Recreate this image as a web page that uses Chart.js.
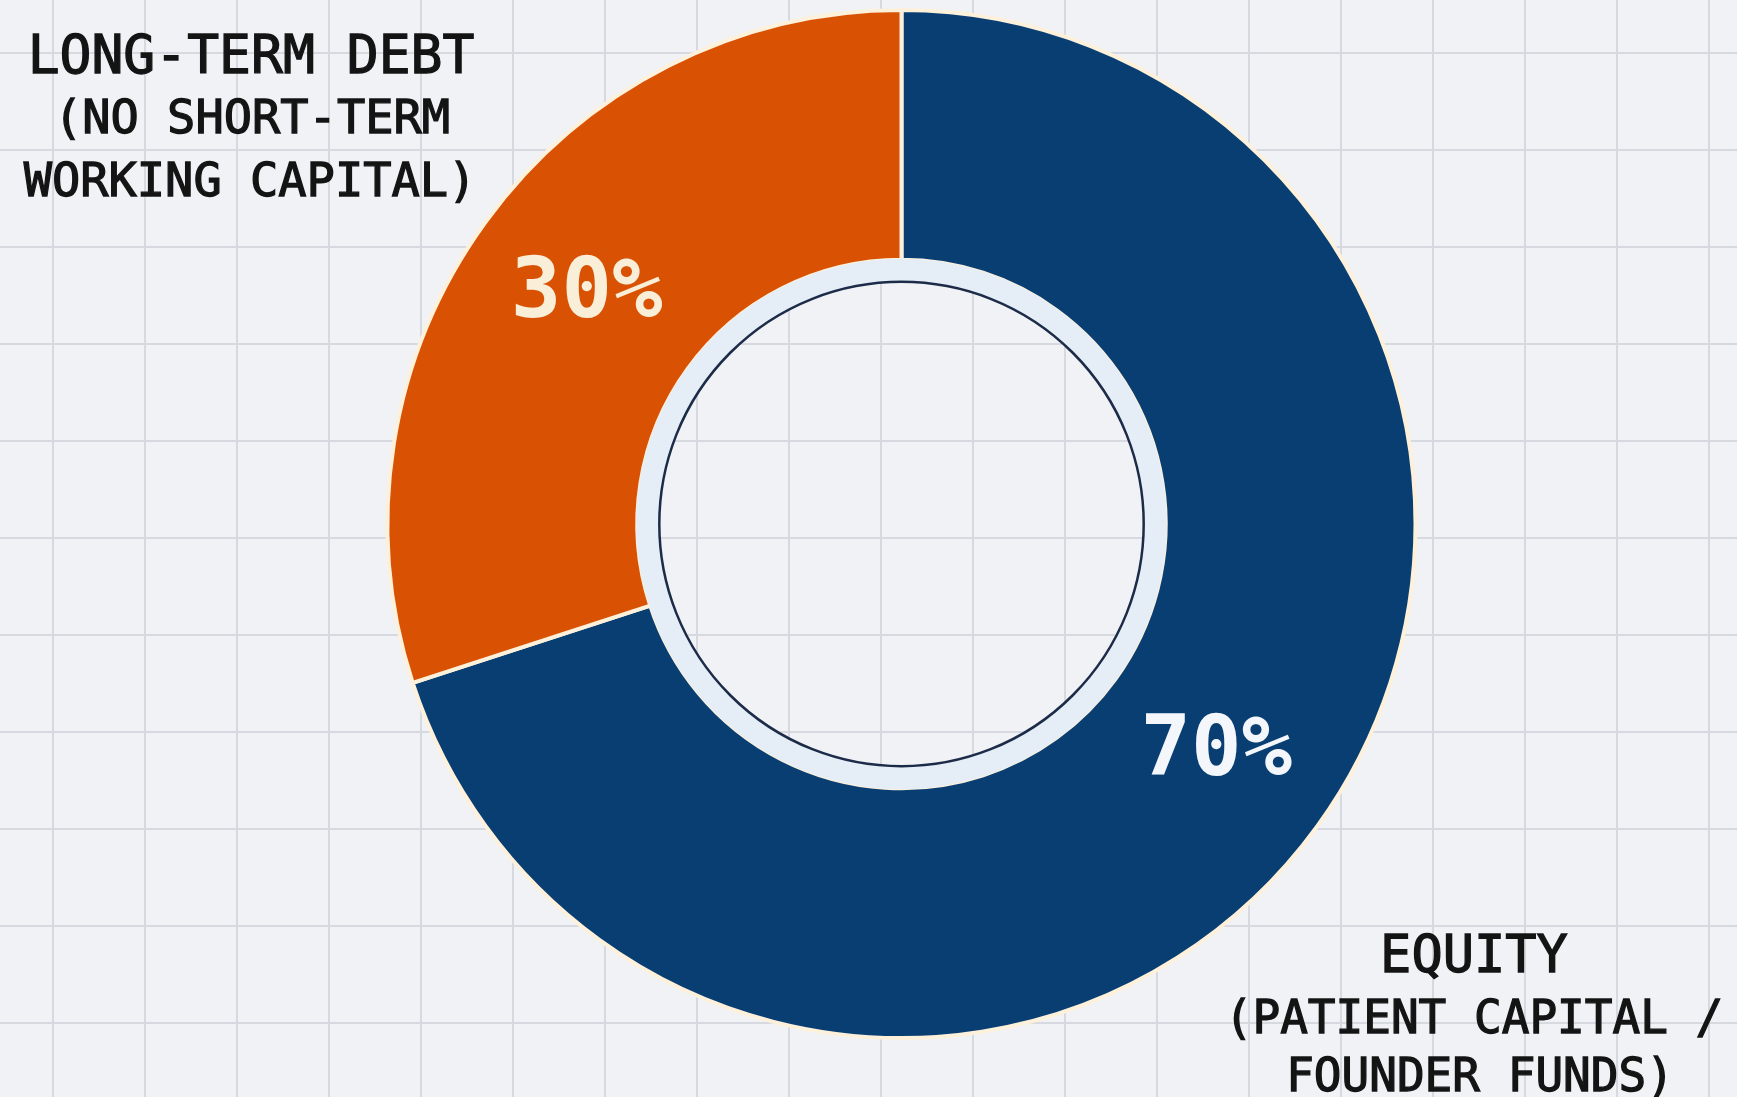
<!DOCTYPE html>
<html>
<head>
<meta charset="utf-8">
<script src="https://cdn.jsdelivr.net/npm/chart.js@4.4.1/dist/chart.umd.min.js"></script>
<style>
  html, body { margin: 0; padding: 0; }
  body {
    width: 1737px; height: 1097px; overflow: hidden;
    background-color: #f0f2f6;
    background-image:
      linear-gradient(to right, #d6d9df 2px, transparent 2px),
      linear-gradient(to bottom, #d6d9df 2px, transparent 2px);
    background-size: 92px 97px;
    background-position: 52px 52px;
  }
</style>
</head>
<body>
<canvas id="donut" width="1737" height="1097"></canvas>
<script>
// capital structure split
const segmentLabels = ['EQUITY', 'LONG-TERM DEBT'];
const segmentValues = [70, 30];
const segmentColors = ['#093e72', '#d95204'];
const valueLabels = ['70%', '30%'];
const noteLines = [
  ['(PATIENT CAPITAL /', 'FOUNDER FUNDS)'],
  ['(NO SHORT-TERM', 'WORKING CAPITAL)']
];

const MONO = '"DejaVu Sans Mono", "Liberation Mono", monospace';

// light band + thin dark ring inside the hole
const holeRing = {
  id: 'holeRing',
  afterDatasetsDraw(chart) {
    const arc = chart.getDatasetMeta(0).data[0];
    const ctx = chart.ctx;
    const r = arc.innerRadius;
    ctx.save();
    ctx.beginPath();
    ctx.arc(arc.x, arc.y, r + 1, 0, Math.PI * 2);
    ctx.arc(arc.x, arc.y, r - 22, 0, Math.PI * 2, true);
    ctx.fillStyle = '#e5edf6';
    ctx.fill();
    ctx.beginPath();
    ctx.arc(arc.x, arc.y, r - 22, 0, Math.PI * 2);
    ctx.lineWidth = 2.5;
    ctx.strokeStyle = '#1c2c48';
    ctx.stroke();
    ctx.restore();
  }
};

// draw text a little heavier than the regular face
function heavyText(ctx, txt, x, y) {
  ctx.fillText(txt, x, y);
  ctx.strokeText(txt, x, y);
}

// percentages on the ring + the two text blocks
const textLabels = {
  id: 'textLabels',
  afterDatasetsDraw(chart) {
    const ctx = chart.ctx;
    const arcs = chart.getDatasetMeta(0).data;
    ctx.save();
    ctx.textAlign = 'center';
    ctx.textBaseline = 'middle';
    ctx.font = 'bold 84px ' + MONO;
    arcs.forEach((arc, i) => {
      const p = arc.tooltipPosition();
      ctx.fillStyle = i === 1 ? '#f9eed8' : '#f3f6fa';
      ctx.fillText(valueLabels[i], p.x, p.y);
    });

    ctx.textBaseline = 'alphabetic';
    ctx.fillStyle = '#141414';
    ctx.strokeStyle = '#141414';
    ctx.lineWidth = 1.3;
    // left block: debt
    ctx.font = '53px ' + MONO;
    heavyText(ctx, segmentLabels[1], 251, 73);
    ctx.font = '47px ' + MONO;
    heavyText(ctx, noteLines[1][0], 252, 133);
    heavyText(ctx, noteLines[1][1], 250, 196);
    // right block: equity
    ctx.font = '52px ' + MONO;
    heavyText(ctx, segmentLabels[0], 1474, 972);
    ctx.font = '46px ' + MONO;
    heavyText(ctx, noteLines[0][0], 1474, 1033);
    heavyText(ctx, noteLines[0][1], 1480, 1091);
    ctx.restore();
  }
};

new Chart(document.getElementById('donut'), {
  type: 'doughnut',
  data: {
    labels: segmentLabels,
    datasets: [{
      data: segmentValues,
      backgroundColor: segmentColors,
      borderColor: '#fdf1dc',
      borderWidth: 4
    }]
  },
  options: {
    responsive: false,
    animation: false,
    radius: 514,
    cutout: '51.4%',
    layout: { padding: { left: 66, right: 0, top: 0, bottom: 49 } },
    plugins: {
      legend: { display: false },
      tooltip: { enabled: false }
    }
  },
  plugins: [holeRing, textLabels]
});
</script>
</body>
</html>
